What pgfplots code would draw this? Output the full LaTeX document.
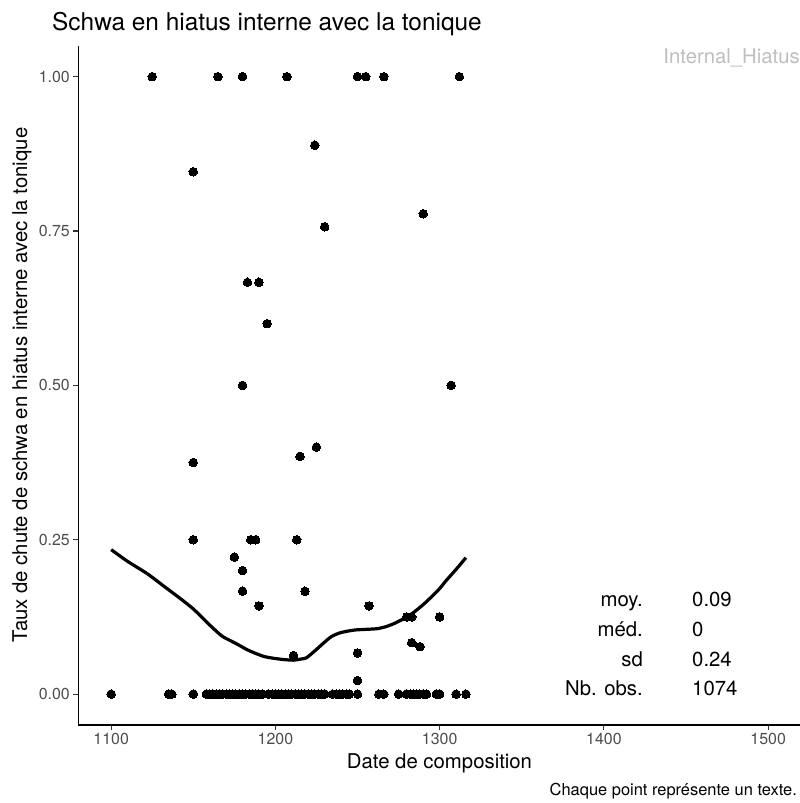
\documentclass[border=0pt]{standalone}
\usepackage{fontspec}
\setmainfont{TeX Gyre Heros}
\usepackage{pgfplots}
\pgfplotsset{compat=1.18}
\definecolor{tickgray}{HTML}{4D4D4D}
\definecolor{lightlab}{HTML}{BEBEBE}
\begin{document}
\begin{tikzpicture}[x=1bp,y=1bp]
\clip (0,0) rectangle (800,803);
\begin{axis}[
  at={(78.3bp,78bp)}, anchor=south west,
  scale only axis, width=722.7bp, height=679.2bp,
  xmin=1080, xmax=1520, ymin=-0.05, ymax=1.05,
  axis x line*=bottom, axis y line*=left,
  axis line style={line width=1.3bp, black},
  xtick={1100,1200,1300,1400,1500},
  ytick={0,0.25,0.5,0.75,1},
  tick align=outside, major tick length=5bp,
  tick style={line width=1.1bp, color=black!80},
  /pgf/number format/assume math mode=true,
  x tick label style={font=\fontsize{16}{18}\selectfont, text=tickgray, /pgf/number format/1000 sep={}},
  y tick label style={font=\fontsize{16}{18}\selectfont, text=tickgray, /pgf/number format/.cd, fixed, fixed zerofill, precision=2},
]
% points at zero
\addplot[only marks, mark=*, mark size=4.3bp, mark options={fill=black, draw=black, line width=0pt}] coordinates {
(1100,0)(1135,0)(1137,0)(1150,0)
(1158,0)(1160,0)(1162,0)(1164,0)(1166,0)(1168,0)(1170,0)(1172,0)(1174,0)(1176,0)(1178,0)(1180,0)(1182,0)(1184,0)(1186,0)(1188,0)(1190,0)(1192,0)
(1196,0)(1198,0)(1200,0)(1202,0)(1204,0)(1206,0)(1208,0)(1210,0)(1212,0)(1214,0)(1216,0)(1218,0)(1220,0)(1222,0)(1224,0)(1226,0)(1228,0)(1230,0)
(1235,0)(1237,0)(1239,0)(1241,0)(1243,0)(1245,0)
(1250,0)(1263,0)(1266,0)(1275,0)
(1280,0)(1282,0)(1284,0)(1286,0)(1288,0)(1290,0)(1292,0)
(1298,0)(1300,0)(1310,0)(1316,0)
};
% non-zero points
\addplot[only marks, mark=*, mark size=4.3bp, mark options={fill=black, draw=black, line width=0pt}] coordinates {
(1125,1)(1165,1)(1180,1)(1207,1)(1250,1)(1255,1)(1266,1)(1312,1)
(1224,0.889)
(1150,0.846)(1290,0.778)(1230,0.757)(1183,0.667)(1190,0.667)(1195,0.6)
(1180,0.5)(1307,0.5)(1225,0.4)(1215,0.385)(1150,0.375)
(1150,0.25)(1185,0.25)(1188,0.25)(1213,0.25)(1175,0.222)(1180,0.2)
(1180,0.1667)(1218,0.1667)(1190,0.1429)(1257,0.1429)
(1280,0.125)(1283,0.125)(1300,0.125)(1283,0.0833)(1288,0.0769)
(1211,0.0625)(1250,0.0667)(1250,0.022)
};
% smoother
\addplot[black, line width=3.2bp, smooth, tension=0.4] coordinates {
(1100,0.234)(1110,0.215)(1122,0.195)(1132,0.175)(1142,0.155)(1150,0.138)(1158,0.117)(1164,0.102)(1168,0.093)(1176,0.082)(1182,0.073)(1187,0.067)(1193,0.061)(1199,0.058)(1205,0.056)(1211,0.055)(1216,0.057)(1219,0.059)(1224,0.070)(1229,0.082)(1234,0.093)(1239,0.099)(1244,0.102)(1249,0.104)(1256,0.105)(1262,0.106)(1267,0.109)(1272,0.114)(1278,0.122)(1284,0.132)(1290,0.145)(1296,0.160)(1300,0.171)(1304,0.184)(1310,0.202)(1316,0.221)
};
\end{axis}
% titles and texts
\node[anchor=base west, inner sep=0pt, font=\fontsize{24.5}{28}\selectfont] at (52,772) {Schwa en hiatus interne avec la tonique};
\node[anchor=base east, inner sep=0pt, text=lightlab, font=\fontsize{20.4}{24}\selectfont] at (800,739) {Internal\_Hiatus};
\node[anchor=base, inner sep=0pt, font=\fontsize{20.4}{24}\selectfont] at (439.5,34) {Date de composition};
\node[anchor=base, inner sep=0pt, rotate=90, font=\fontsize{20.4}{24}\selectfont] at (27,418) {Taux de chute de schwa en hiatus interne avec la tonique};
\node[anchor=base east, inner sep=0pt, font=\fontsize{16.5}{20}\selectfont] at (797,7) {Chaque point représente un texte.};
\begin{scope}[every node/.style={inner sep=0pt, font=\fontsize{20.4}{24}\selectfont}]
\node[anchor=base east] at (643,196) {moy.};
\node[anchor=base east] at (643,166) {méd.};
\node[anchor=base east] at (643,136) {sd};
\node[anchor=base east] at (643,107) {Nb. obs.};
\node[anchor=base west] at (692,196) {0.09};
\node[anchor=base west] at (692,166) {0};
\node[anchor=base west] at (692,136) {0.24};
\node[anchor=base west] at (692,107) {1074};
\end{scope}
\end{tikzpicture}
\end{document}
